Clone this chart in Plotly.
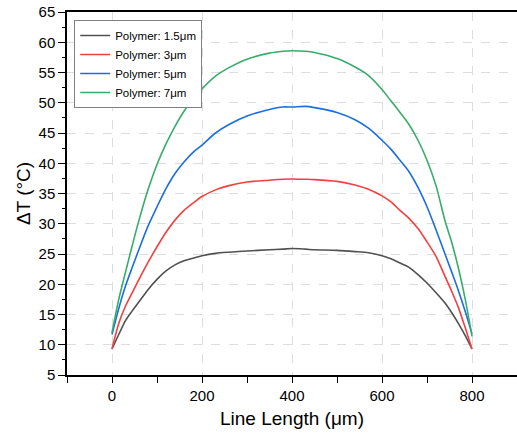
import plotly.graph_objects as go

x_um = [0, 15, 30, 45, 60, 80, 100, 120, 140, 160, 180, 200, 230, 260, 300, 350, 380, 400,
        430, 450, 500, 540, 570, 600, 620, 640, 660, 680, 700, 720, 740, 755, 770, 785, 800]

t_1p5 = [9.3, 11.7, 14.0, 15.6, 17.1, 19.1, 20.8, 22.2, 23.2, 23.9, 24.3, 24.7, 25.1, 25.3, 25.5, 25.7, 25.8, 25.9,
         25.8, 25.7, 25.6, 25.4, 25.2, 24.7, 24.2, 23.5, 22.8, 21.6, 20.2, 18.6, 16.9, 15.3, 13.5, 11.5, 9.3]
t_3 = [9.3, 13.5, 16.4, 18.6, 20.8, 23.6, 26.2, 28.6, 30.6, 32.2, 33.4, 34.5, 35.6, 36.3, 36.9, 37.2, 37.35, 37.4,
       37.35, 37.3, 37.0, 36.4, 35.7, 34.6, 33.6, 32.2, 30.9, 29.2, 27.0, 24.6, 21.3, 18.8, 16.1, 12.8, 9.3]
t_5 = [11.7, 16.0, 19.7, 22.8, 25.8, 29.6, 32.8, 35.8, 38.3, 40.2, 41.8, 43.0, 45.0, 46.4, 47.8, 48.9, 49.3, 49.3,
       49.4, 49.2, 48.4, 47.2, 45.8, 43.8, 42.3, 40.5, 38.6, 36.0, 32.8, 29.0, 25.0, 22.0, 18.9, 15.5, 11.8]
t_7 = [12.0, 17.5, 22.0, 26.4, 30.6, 35.6, 39.8, 43.2, 46.1, 48.6, 50.6, 52.3, 54.4, 55.8, 57.2, 58.2, 58.5, 58.6,
       58.5, 58.3, 57.3, 55.9, 54.5, 52.2, 50.3, 48.4, 46.4, 43.8, 40.5, 36.3, 30.5, 26.9, 22.6, 17.5, 11.4]

names = ["Polymer: 1.5μm", "Polymer: 3μm", "Polymer: 5μm", "Polymer: 7μm"]
colors = ["#515151", "#F14040", "#1A6FDF", "#37AD6B"]
series = [t_1p5, t_3, t_5, t_7]

fig = go.Figure()
for n, c, s in zip(names, colors, series):
    fig.add_trace(go.Scatter(x=x_um, y=s, mode="lines", name=n,
                             line=dict(color=c, width=1.6, shape="spline", smoothing=0.8)))

font = "Liberation Sans, Arial, sans-serif"
fig.update_layout(
    width=517, height=439,
    margin=dict(l=67, r=0, t=12, b=64),
    paper_bgcolor="white", plot_bgcolor="white",
    font=dict(family=font, color="black"),
    legend=dict(x=0.016, y=0.978, xanchor="left", yanchor="top",
                bgcolor="white", bordercolor="#808080", borderwidth=1,
                font=dict(size=11.5, family=font), tracegroupgap=0,
                itemwidth=30),
    showlegend=True,
)
fig.update_xaxes(
    range=[-100, 900], tick0=0, dtick=200, automargin=False,
    ticklabeloverflow="allow",
    showline=True, linecolor="black", linewidth=1.5, mirror=True,
    ticks="outside", ticklen=6, tickwidth=1.2, tickcolor="black",
    tickfont=dict(size=15),
    showgrid=True, gridcolor="#dddddd", griddash="dash", gridwidth=1,
    zeroline=False,
    minor=dict(dtick=100, tick0=0, ticks="outside", ticklen=6, tickwidth=1.2,
               tickcolor="black", showgrid=False),
    title=dict(text="Line Length (μm)", font=dict(size=19), standoff=9),
)
fig.update_yaxes(
    range=[5, 65], tick0=5, dtick=5, automargin=False,
    ticklabeloverflow="allow",
    showline=True, linecolor="black", linewidth=1.5, mirror=False,
    ticks="outside", ticklen=7, tickwidth=1.2, tickcolor="black",
    tickfont=dict(size=15),
    showgrid=True, gridcolor="#dddddd", griddash="dash", gridwidth=1,
    zeroline=False,
    minor=dict(dtick=2.5, tick0=5, ticks="outside", ticklen=3.5, tickwidth=1.2,
               tickcolor="black", showgrid=False),
    title=dict(text="ΔT (°C)", font=dict(size=19), standoff=3),
)
fig.write_html("out.html", config={"displayModeBar": False},
               post_script="document.body.style.margin='0';")
